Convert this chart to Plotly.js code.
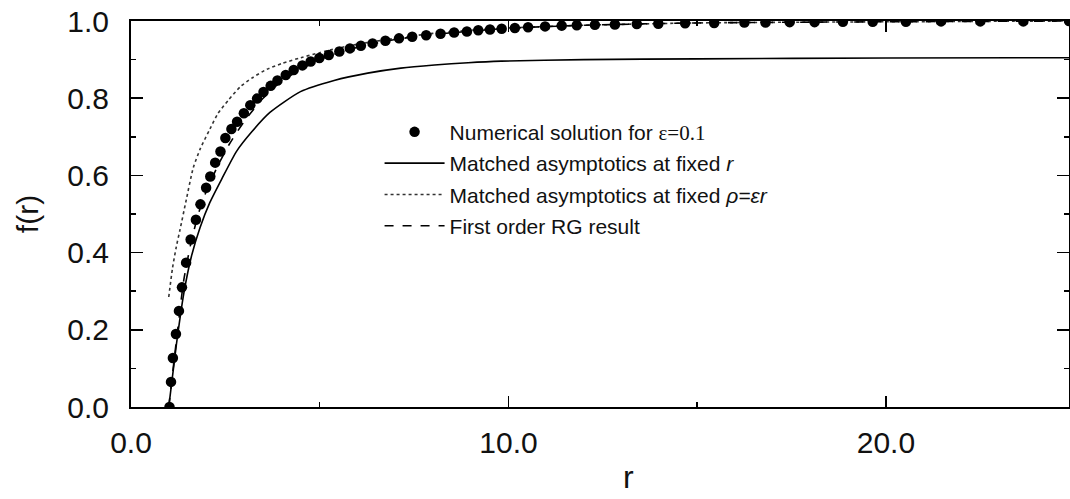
<!DOCTYPE html>
<html>
<head>
<meta charset="utf-8">
<script src="https://cdn.plot.ly/plotly-3.0.1.min.js"></script>
<style>html,body{margin:0;padding:0;background:#fff;overflow:hidden}#plot{width:1070px;height:499px}</style>
</head>
<body>
<div id="plot"></div>
<script>
// Numerical solution for eps = 0.1 (dots)
const numR = [1.02,1.06,1.11,1.19,1.27,1.35,1.46,1.58,1.72,1.84,1.99,2.10,2.23,2.37,2.50,2.66,2.81,2.99,3.16,3.34,3.51,3.70,3.88,4.10,4.31,4.54,4.76,4.99,5.24,5.52,5.80,6.09,6.40,6.74,7.10,7.45,7.82,8.20,8.56,8.90,9.20,9.51,9.82,10.17,10.52,10.97,11.41,11.81,12.29,12.82,13.40,13.97,14.68,15.45,16.25,16.81,17.45,18.11,18.86,19.65,20.53,21.46,22.50,23.64,24.85];
const numF = [0,0.065,0.127,0.189,0.249,0.31,0.374,0.434,0.485,0.525,0.568,0.597,0.633,0.662,0.697,0.72,0.739,0.761,0.782,0.799,0.816,0.832,0.846,0.860,0.873,0.885,0.895,0.904,0.912,0.921,0.929,0.936,0.942,0.949,0.955,0.959,0.963,0.967,0.970,0.973,0.976,0.978,0.980,0.982,0.984,0.986,0.988,0.989,0.990,0.991,0.992,0.993,0.994,0.995,0.996,0.996,0.997,0.997,0.998,0.998,0.998,0.999,0.999,0.999,1.0];

// Matched asymptotics at fixed r (solid)
const fixR_r = [1.0,1.2,1.4,1.6,1.83,2.09,2.4,2.8,3.2,3.68,4.49,5.38,6.27,7.15,8.04,8.93,9.81,12,15,20,25];
const fixR_f = [0,0.16,0.295,0.39,0.465,0.53,0.59,0.663,0.713,0.763,0.817,0.846,0.865,0.878,0.886,0.892,0.896,0.900,0.902,0.904,0.905];

// Matched asymptotics at fixed rho = eps r (dotted)
const fixRho_r = [1.0,1.1,1.2,1.3,1.45,1.65,1.84,2.09,2.3,2.58,2.9,3.2,3.6,4.0,4.5,5.0,5.5,6.0,7.0,8.0,9.0,10,12,15,20,25];
const fixRho_f = [0.285,0.36,0.415,0.46,0.53,0.62,0.67,0.72,0.76,0.795,0.83,0.852,0.875,0.89,0.905,0.918,0.93,0.94,0.955,0.968,0.976,0.982,0.989,0.995,0.998,1.0];

// First order RG result (dashed)
const rg_r = [1.0,1.2,1.4,1.6,1.8,2.0,2.3,2.6,3.0,3.5,4,5,6,7,8,10,12,15,20,25];
const rg_f = [0,0.17,0.33,0.43,0.505,0.56,0.625,0.68,0.74,0.80,0.845,0.9,0.932,0.952,0.965,0.981,0.989,0.995,0.998,1.0];

const xTickVals = [0,5,10,15,20];
const xTickText = ['0.0','','10.0','','20.0'];
const yTickVals = [0,0.2,0.4,0.6,0.8,1.0];
const yTickText = ['0.0','0.2','0.4','0.6','0.8','1.0'];

const names = [
  'Numerical solution for <span style="font-family:\'Liberation Serif\'">ε=0.1</span>',
  'Matched asymptotics at fixed <i>r</i>',
  'Matched asymptotics at fixed <i>ρ=εr</i>',
  'First order RG result'
];

const traces = [
  {x: fixR_r, y: fixR_f, mode:'lines', name:names[1], legendrank:2, legendgroup:'b',
   line:{color:'#000', width:1.6, shape:'spline', smoothing:0.6}},
  {x: fixRho_r, y: fixRho_f, mode:'lines', name:names[2], legendrank:3, legendgroup:'c',
   line:{color:'#333', width:1.6, dash:'dot', shape:'spline', smoothing:0.6}},
  {x: rg_r, y: rg_f, mode:'lines', name:names[3], legendrank:4, legendgroup:'d',
   line:{color:'#000', width:1.6, dash:'dash', shape:'spline', smoothing:0.6}},
  {x: numR, y: numF, mode:'markers', name:names[0], legendrank:1, legendgroup:'a',
   marker:{color:'#000', size:10.5}}
];

const layout = {
  width:1070, height:499,
  margin:{l:131, r:1, t:21, b:92},
  paper_bgcolor:'#fff', plot_bgcolor:'#fff',
  font:{family:'"Liberation Sans", Arial, sans-serif', color:'#111'},
  showlegend:true,
  legend:{x:0.265, y:0.765, xanchor:'left', yanchor:'top', bgcolor:'rgba(0,0,0,0)',
    font:{size:21, color:'#111'}, itemwidth:60, tracegroupgap:1, traceorder:'grouped'},
  xaxis:{range:[0,24.85], showline:true, linecolor:'#000', linewidth:2, mirror:'ticks',
    ticks:'inside', ticklen:11, tickwidth:1.5, tickcolor:'#000',
    tickvals:xTickVals, ticktext:xTickText, tickfont:{size:30, color:'#111'},
    minor:{tickvals:[5,15], ticklen:5, ticks:'inside', tickcolor:'#000'},
    showgrid:false, zeroline:false, ticklabelstandoff:8},
  yaxis:{range:[0,1.0], showline:true, linecolor:'#000', linewidth:2, mirror:'ticks',
    ticks:'inside', ticklen:12, tickwidth:1.5, tickcolor:'#000',
    tickvals:yTickVals, ticktext:yTickText, tickfont:{size:30, color:'#111'},
    minor:{dtick:0.1, ticklen:5, ticks:'inside', tickcolor:'#000'},
    showgrid:false, zeroline:false, ticklabelstandoff:14,
    title:{text:'f(r)', font:{size:30, color:'#111'}, standoff:20}},
  annotations:[{x:13.17, xref:'x', y:-0.181, yref:'paper', text:'r', showarrow:false,
    font:{size:32, color:'#111'}, xanchor:'center', yanchor:'middle'}]
};

Plotly.newPlot('plot', traces, layout, {displayModeBar:false, staticPlot:true});
</script>
</body>
</html>
